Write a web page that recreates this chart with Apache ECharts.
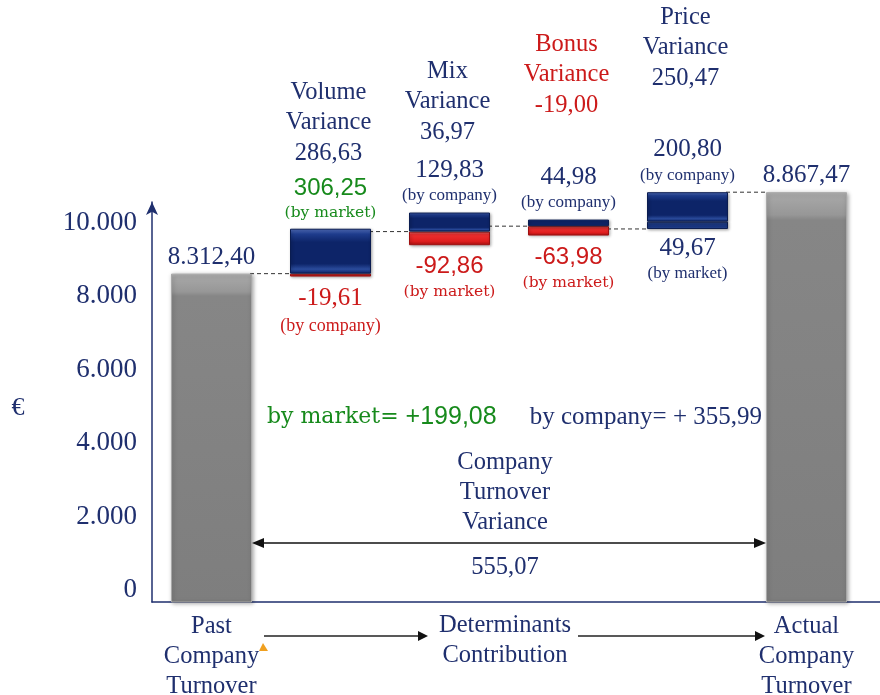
<!DOCTYPE html>
<html><head><meta charset="utf-8">
<script src="https://cdn.jsdelivr.net/npm/echarts@6/dist/echarts.min.js"></script>
<style>html,body{margin:0;padding:0;background:#fff}#c{width:880px;height:695px}</style>
</head><body><div id="c"></div>
<script>
// ---------- data ----------
const categories = ['Past Company Turnover', 'Volume Variance', 'Mix Variance', 'Bonus Variance', 'Price Variance', 'Actual Company Turnover'];
const pastTurnover = 8312.40;
const actualTurnover = 8867.47;
const netVariance = [286.63, 36.97, -19.00, 250.47];
const byMarket = [306.25, -92.86, -63.98, 49.67];
const byCompany = [-19.61, 129.83, 44.98, 200.80];
const marketTotal = 199.08;
const companyTotal = 355.99;
const turnoverVariance = 555.07;
const yTicks = [0, 2000, 4000, 6000, 8000, 10000];

// ---------- helpers ----------
const NAVY = '#1f2f6e', RED = '#cc1a1a', GREEN = '#178a1c';
const SERIF = 'Liberation Serif', SANS = 'Liberation Sans';
const BAR_W = 81;
function fmt(v) {
  const s = Math.abs(v).toFixed(2).split('.');
  const int = s[0].replace(/\B(?=(\d{3})+(?!\d))/g, '.');
  return (v < 0 ? '-' : '') + int + ',' + s[1];
}
const N = categories.length;
const starts = [];
let level = pastTurnover;
netVariance.forEach(n => { starts.push(level); level += n; });
const connectorLevels = starts.concat([actualTurnover]);

const baseData = Array(N).fill('-'), grayData = Array(N).fill('-'), redData = Array(N).fill('-'),
      blueLo = Array(N).fill('-'), blueHi = Array(N).fill('-');
grayData[0] = pastTurnover; grayData[N - 1] = actualTurnover;
netVariance.forEach((n, k) => {
  const i = k + 1;
  const comps = [{ src: 'by market', v: byMarket[k] }, { src: 'by company', v: byCompany[k] }];
  const neg = comps.filter(c => c.v < 0), pos = comps.filter(c => c.v > 0);
  const negSum = neg.reduce((a, c) => a - c.v, 0);
  baseData[i] = starts[k] - negSum;
  if (neg.length) redData[i] = { value: negSum, src: neg[0].src, raw: neg[0].v, k };
  if (pos.length) blueLo[i] = { value: pos[0].v, src: pos[0].src, raw: pos[0].v, k,
    label: { position: pos.length > 1 ? 'bottom' : 'top', distance: pos.length > 1 ? 6 : 5 } };
  if (pos.length > 1) blueHi[i] = { value: pos[1].v, src: pos[1].src, raw: pos[1].v, k };
});

function lbl(p) {
  const d = p.data;
  const neg = d.raw < 0;
  const market = d.src === 'by market' && d.k < 3;
  const c = neg ? 'R' : (market ? 'G' : 'N');
  const pre = market ? 'm' : 'c';
  return '{' + pre + 'v' + c + '|' + fmt(d.raw) + '}\n{' + pre + 't' + c + '|(' + d.src + ')}';
}
const rich = {
  mvG: { fontFamily: SANS, fontSize: 24, color: GREEN, lineHeight: 27 },
  mtG: { fontFamily: 'DejaVu Serif', fontSize: 15.5, color: GREEN, lineHeight: 22 },
  mvR: { fontFamily: SANS, fontSize: 24, color: RED, lineHeight: 27 },
  mtR: { fontFamily: 'DejaVu Serif', fontSize: 15.5, color: RED, lineHeight: 24 },
  cvN: { fontFamily: SERIF, fontSize: 25, color: NAVY, lineHeight: 27 },
  ctN: { fontFamily: SERIF, fontSize: 17, color: NAVY, lineHeight: 24 },
  cvR: { fontFamily: SERIF, fontSize: 25, color: RED, lineHeight: 27 },
  ctR: { fontFamily: SERIF, fontSize: 18, color: RED, lineHeight: 29 }
};
const grad = (stops) => new echarts.graphic.LinearGradient(0, 0, 0, 1, stops.map((c) => ({ offset: c[0], color: c[1] })));
const grayStyle = { color: grad([[0, '#b4b4b4'], [0.012, '#a6a6a6'], [0.055, '#979797'], [0.068, '#868686'], [1, '#7e7e7e']]),
  borderColor: '#a8a8a8', borderWidth: 1, shadowBlur: 4, shadowColor: 'rgba(0,0,0,0.35)', shadowOffsetX: 1, shadowOffsetY: 1 };
const blueStyle = { color: grad([[0, '#5573c4'], [0.12, '#1e3c8c'], [0.3, '#0d2468'], [0.78, '#0d2468'], [0.9, '#2a4b9c'], [1, '#0d2468']]),
  borderColor: '#0a1c50', borderWidth: 1, shadowBlur: 3, shadowColor: 'rgba(0,0,0,0.35)', shadowOffsetX: 1, shadowOffsetY: 1 };
const blueLightStyle = { color: grad([[0, '#4a6ab8'], [0.3, '#1d3a86'], [0.7, '#1a3680'], [1, '#31529f']]),
  borderColor: '#0a1c50', borderWidth: 1 };
const redStyle = { color: grad([[0, '#ff9c9c'], [0.18, '#f03232'], [0.7, '#e01e1e'], [1, '#a81010']]),
  borderColor: '#a01010', borderWidth: 1, shadowBlur: 3, shadowColor: 'rgba(0,0,0,0.3)', shadowOffsetX: 1, shadowOffsetY: 1 };

const chart = echarts.init(document.getElementById('c'), null, { renderer: 'canvas' });
const option = {
  animation: false,
  backgroundColor: '#fff',
  textStyle: { fontFamily: SERIF },
  grid: [
    { left: 152, right: 14, top: 150, bottom: 93, outerBoundsMode: 'none', containLabel: false },
    { left: 152, right: 0, top: 202, bottom: 93, outerBoundsMode: 'none', containLabel: false }
  ],
  xAxis: [
    { type: 'category', gridIndex: 0, data: categories,
      axisLine: { show: false }, axisTick: { show: false },
      axisLabel: { interval: 0, margin: 10, color: NAVY, fontFamily: SERIF, fontSize: 24.5, lineHeight: 30,
        formatter: (v, i) => (i === 0 || i === N - 1) ? v.split(' ').join('\n') : '' } },
    { type: 'value', gridIndex: 1, min: 0, max: 1, axisLine: { show: true, onZero: false, lineStyle: { color: NAVY, width: 1.5 } },
      axisTick: { show: false }, axisLabel: { show: false }, splitLine: { show: false } }
  ],
  yAxis: [
    { type: 'value', gridIndex: 0, min: 6075, max: 9155, show: false, splitLine: { show: false } },
    { type: 'value', gridIndex: 1, min: -327, max: 10572,
      axisLine: { show: true, onZero: false, lineStyle: { color: NAVY, width: 1.5 }, symbol: ['none', 'arrow'], symbolSize: [9, 13] },
      axisTick: { show: false }, splitLine: { show: false },
      axisLabel: { customValues: yTicks, margin: 15, color: NAVY, fontFamily: SERIF, fontSize: 27,
        formatter: v => fmt(v).split(',')[0] } }
  ],
  series: [
    { type: 'custom', xAxisIndex: 0, yAxisIndex: 0, z: 1, silent: true,
      data: connectorLevels.map((v, i) => [i, v]), encode: { x: 0, y: 1 },
      renderItem: (params, api) => {
        const i = api.value(0), v = api.value(1);
        const p1 = api.coord([i, v]), p2 = api.coord([i + 1, v]);
        return { type: 'line', shape: { x1: p1[0] + BAR_W / 2 - 2, y1: p1[1], x2: p2[0] - BAR_W / 2 + 2, y2: p2[1] },
          style: { stroke: '#333', lineWidth: 1, lineDash: [4, 3] } };
      } },
    { name: 'base', type: 'bar', stack: 'w', barWidth: BAR_W, data: baseData, itemStyle: { color: 'transparent' }, silent: true, z: 2 },
    { name: 'total', type: 'bar', stack: 'w', barWidth: BAR_W, data: grayData, itemStyle: grayStyle, z: 3,
      label: { show: true, position: 'top', distance: 4, color: NAVY, fontFamily: SERIF, fontSize: 25, formatter: p => fmt(p.value) } },
    { name: 'negative', type: 'bar', stack: 'w', barWidth: BAR_W, data: redData, itemStyle: redStyle, z: 3,
      label: { show: true, position: 'bottom', distance: 8, formatter: lbl, rich } },
    { name: 'positive', type: 'bar', stack: 'w', barWidth: BAR_W, data: blueLo, itemStyle: blueStyle, z: 3,
      label: { show: true, position: 'top', distance: 5, formatter: lbl, rich } },
    { name: 'positive2', type: 'bar', stack: 'w', barWidth: BAR_W, data: blueHi, itemStyle: blueStyle, z: 3,
      label: { show: true, position: 'top', distance: 5, formatter: lbl, rich } }
  ]
};
blueLo.forEach((d, i) => { if (d !== '-' && blueHi[i] !== '-') d.itemStyle = blueLightStyle; });
chart.setOption(option);

// ---------- annotations ----------
const cx = i => chart.convertToPixel({ xAxisIndex: 0 }, i);
const headerMidY = [123, 102, 75, 48];
const g = [];
netVariance.forEach((n, k) => {
  g.push({ type: 'text', style: { text: categories[k + 1].split(' ').join('\n') + '\n' + fmt(n), x: cx(k + 1) - 2, y: headerMidY[k],
    align: 'center', verticalAlign: 'middle', fontFamily: SERIF, fontSize: 24.5, lineHeight: 30.5, fill: n < 0 ? RED : NAVY } });
});
const xL = cx(0) + BAR_W / 2, xR = cx(N - 1) - BAR_W / 2, midX = (xL + xR) / 2;
const yA = 543;
g.push({ type: 'line', shape: { x1: xL + 6, y1: yA, x2: xR - 6, y2: yA }, style: { stroke: '#111', lineWidth: 1.5 } });
g.push({ type: 'polygon', shape: { points: [[xL, yA], [xL + 12, yA - 5], [xL + 12, yA + 5]] }, style: { fill: '#111' } });
g.push({ type: 'polygon', shape: { points: [[xR, yA], [xR - 12, yA - 5], [xR - 12, yA + 5]] }, style: { fill: '#111' } });
g.push({ type: 'text', style: { text: 'Company\nTurnover\nVariance', x: midX - 4, y: 493, align: 'center', verticalAlign: 'middle',
  fontFamily: SERIF, fontSize: 24.5, lineHeight: 30, fill: NAVY } });
g.push({ type: 'text', style: { text: fmt(turnoverVariance), x: midX - 4, y: 568, align: 'center', verticalAlign: 'middle',
  fontFamily: SERIF, fontSize: 24.5, fill: NAVY } });
g.push({ type: 'text', style: { text: '{a|by market= }{b|+' + fmt(marketTotal) + '}', x: 267, y: 417, align: 'left', verticalAlign: 'middle',
  rich: { a: { fontFamily: 'DejaVu Serif', fontSize: 22, fill: GREEN }, b: { fontFamily: SANS, fontSize: 25, fill: GREEN } } } });
g.push({ type: 'text', style: { text: 'by company= + ' + fmt(companyTotal), x: 762, y: 417, align: 'right', verticalAlign: 'middle',
  fontFamily: SERIF, fontSize: 25, fill: NAVY } });
g.push({ type: 'text', style: { text: '€', x: 18, y: 408, align: 'center', verticalAlign: 'middle', fontFamily: SERIF, fontSize: 26, fill: NAVY } });
const dMid = (cx(2) + cx(3)) / 2;
g.push({ type: 'text', style: { text: 'Determinants\nContribution', x: dMid - 4, y: 641, align: 'center', verticalAlign: 'middle',
  fontFamily: SERIF, fontSize: 24.5, lineHeight: 30, fill: NAVY } });
const yB = 636;
[[264, 428], [578, 765]].forEach(([a, b]) => {
  g.push({ type: 'line', shape: { x1: a, y1: yB, x2: b - 8, y2: yB }, style: { stroke: '#222', lineWidth: 1.5 } });
  g.push({ type: 'polygon', shape: { points: [[b, yB], [b - 10, yB - 5], [b - 10, yB + 5]] }, style: { fill: '#111' } });
});
g.push({ type: 'polygon', shape: { points: [[263, 643], [259, 651], [268, 651]] }, style: { fill: '#f0a020' } });
chart.setOption({ graphic: { elements: g } });
</script></body></html>
